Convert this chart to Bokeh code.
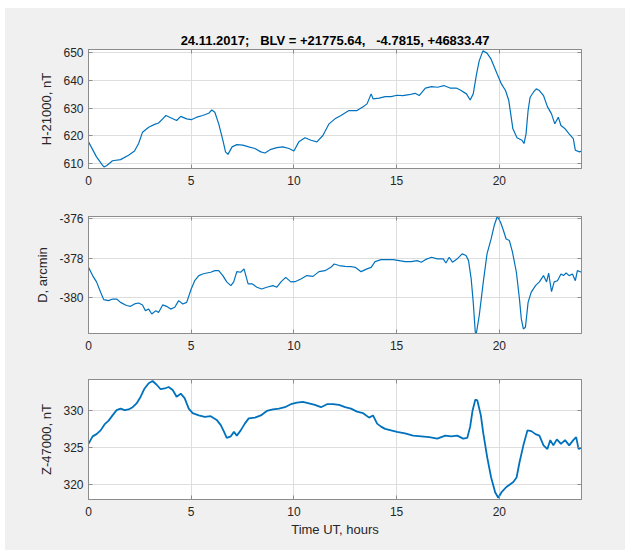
from bokeh.plotting import figure
from bokeh.layouts import column
from bokeh.models import Range1d, FixedTicker, LinearAxis
from bokeh.embed import file_html
from bokeh.resources import INLINE

# ---------------- data ----------------
title_text = "24.11.2017;\u00a0\u00a0\u00a0BLV = +21775.64,\u00a0\u00a0\u00a0-4.7815, +46833.47"
x_ticks = [0, 5, 10, 15, 20]

t_h = [0, 0.39, 0.68, 0.75, 0.88, 1.17, 1.56, 1.95, 2.24, 2.44,
       2.63, 2.93, 3.22, 3.41, 3.61, 3.77, 4.0, 4.29, 4.49, 4.78,
       5.0, 5.27, 5.56, 5.85, 6.0, 6.15, 6.34, 6.54, 6.67, 6.79,
       6.99, 7.22, 7.51, 7.8, 8.1, 8.39, 8.59, 8.88, 9.17, 9.46,
       9.76, 10.0, 10.24, 10.54, 10.83, 11.12, 11.41, 11.71, 12.0, 12.29,
       12.68, 13.07, 13.37, 13.56, 13.76, 13.85, 14.15, 14.44, 14.73, 15.02,
       15.3, 15.6, 15.9, 16.1, 16.4, 16.7, 17.0, 17.3, 17.6, 17.9,
       18.1, 18.4, 18.58, 18.73, 18.89, 19.02, 19.2, 19.4, 19.6, 19.9,
       20.1, 20.3, 20.46, 20.66, 20.86, 21.1, 21.2, 21.3, 21.4, 21.5,
       21.66, 21.8, 21.95, 22.15, 22.34, 22.54, 22.7, 22.87, 23.0, 23.2,
       23.4, 23.6, 23.7, 23.9, 24.0]
h_vals = [617.8, 612.4, 609.4, 608.8, 609.2, 611.0, 611.4, 613.0, 614.5, 617.2,
          621.3, 623.1, 624.1, 624.6, 626.1, 627.3, 626.5, 625.5, 627.0, 626.1,
          625.8, 626.7, 627.3, 628.1, 629.3, 628.5, 624.3, 618.4, 614.2, 613.3,
          616.0, 616.8, 616.6, 616.0, 615.4, 614.2, 613.8, 615.1, 615.7, 616.0,
          615.4, 614.5, 617.8, 619.3, 618.4, 617.8, 620.1, 624.3, 626.1, 627.3,
          629.1, 629.1, 630.5, 631.5, 635.1, 633.3, 633.6, 634.1, 634.1, 634.6,
          634.5, 634.8, 635.3, 634.5, 637.2, 637.7, 637.5, 638.1, 637.2, 637.2,
          636.5, 635.1, 632.9, 635.1, 642.2, 647.0, 650.6, 649.8, 647.6, 642.2,
          638.7, 636.3, 632.7, 622.5, 619.3, 618.4, 617.2, 620.7, 629.1, 633.9,
          635.7, 636.9, 636.3, 634.5, 630.5, 627.9, 624.3, 626.7, 623.7, 622.5,
          620.7, 619.0, 614.8, 614.2, 614.5]
h_ticks = [610, 620, 630, 640, 650]

t_d = [0, 0.2, 0.39, 0.59, 0.74, 0.98, 1.17, 1.37, 1.56, 1.85,
       2.05, 2.24, 2.44, 2.63, 2.77, 2.93, 3.08, 3.28, 3.41, 3.61,
       3.8, 4.0, 4.2, 4.39, 4.59, 4.78, 5.0, 5.17, 5.37, 5.56,
       5.76, 5.95, 6.15, 6.34, 6.54, 6.73, 6.93, 7.07, 7.22, 7.41,
       7.57, 7.77, 7.96, 8.2, 8.43, 8.68, 8.98, 9.17, 9.37, 9.6,
       9.85, 10.05, 10.34, 10.63, 10.93, 11.22, 11.51, 11.8, 11.96, 12.2,
       12.49, 12.78, 12.98, 13.27, 13.56, 13.76, 13.95, 14.24, 14.54, 14.83,
       15.12, 15.41, 15.71, 16.0, 16.2, 16.4, 16.7, 16.98, 17.27, 17.4,
       17.56, 17.72, 17.95, 18.19, 18.38, 18.5, 18.63, 18.73, 18.83, 18.88,
       19.02, 19.22, 19.4, 19.6, 19.75, 19.9, 20.06, 20.2, 20.33, 20.49,
       20.64, 20.83, 20.98, 21.07, 21.17, 21.27, 21.4, 21.55, 21.76, 21.95,
       22.15, 22.3, 22.4, 22.54, 22.67, 22.83, 23.0, 23.12, 23.25, 23.4,
       23.56, 23.7, 23.8, 24.0]
d_vals = [-378.46, -378.88, -379.2, -379.73, -380.1, -380.15, -380.07, -380.07, -380.24, -380.4,
          -380.44, -380.32, -380.27, -380.37, -380.66, -380.58, -380.83, -380.66, -380.75, -380.37,
          -380.44, -380.58, -380.49, -380.15, -380.32, -380.24, -379.56, -379.14, -378.88, -378.8,
          -378.75, -378.71, -378.63, -378.63, -378.88, -379.2, -379.39, -379.2, -378.68, -378.71,
          -378.54, -379.3, -379.3, -379.47, -379.56, -379.47, -379.39, -379.47, -379.2, -378.97,
          -379.2, -379.19, -379.05, -378.88, -378.92, -378.68, -378.63, -378.46, -378.29, -378.37,
          -378.41, -378.42, -378.46, -378.68, -378.54, -378.46, -378.17, -378.07, -378.07, -378.07,
          -378.12, -378.17, -378.17, -378.12, -378.2, -378.07, -377.95, -378.03, -378.03, -378.24,
          -377.95, -378.2, -378.03, -377.78, -377.86, -378.12, -379.05, -380.24, -381.76, -381.82,
          -380.92, -379.2, -377.78, -377.02, -376.34, -375.88, -376.17, -376.59, -377.02, -377.1,
          -377.69, -378.71, -380.07, -381.08, -381.59, -381.5, -380.24, -379.73, -379.39, -379.2,
          -378.88, -379.2, -378.75, -379.69, -379.2, -379.14, -378.8, -378.88, -378.75, -378.88,
          -378.8, -379.14, -378.63, -378.71]
d_ticks = [-380, -378, -376]

t_z = [0, 0.2, 0.39, 0.59, 0.78, 0.98, 1.17, 1.37, 1.56, 1.76,
       1.95, 2.15, 2.34, 2.54, 2.73, 2.93, 3.12, 3.32, 3.51, 3.71,
       3.9, 4.1, 4.29, 4.49, 4.68, 4.88, 5.07, 5.37, 5.66, 5.95,
       6.24, 6.44, 6.6, 6.73, 6.93, 7.08, 7.22, 7.41, 7.61, 7.8,
       8.1, 8.39, 8.68, 8.98, 9.27, 9.56, 9.85, 10.15, 10.44, 10.73,
       11.02, 11.32, 11.61, 11.9, 12.2, 12.49, 12.78, 13.07, 13.37, 13.66,
       13.85, 14.05, 14.24, 14.44, 14.73, 15.02, 15.41, 15.8, 16.2, 16.59,
       16.98, 17.37, 17.66, 17.95, 18.24, 18.44, 18.58, 18.7, 18.83, 18.93,
       19.1, 19.22, 19.41, 19.6, 19.8, 19.95, 20.1, 20.33, 20.53, 20.68,
       20.84, 20.98, 21.17, 21.37, 21.56, 21.76, 21.95, 22.15, 22.34, 22.48,
       22.63, 22.8, 23.0, 23.2, 23.4, 23.6, 23.74, 23.86, 24.0]
z_vals = [325.5, 326.5, 326.8, 327.3, 328.1, 328.6, 329.3, 330.0, 330.2, 330.0,
          330.1, 330.4, 330.9, 331.8, 332.9, 333.6, 333.9, 333.4, 332.8, 332.9,
          333.1, 332.7, 331.8, 332.2, 331.6, 330.2, 329.6, 329.3, 329.1, 329.2,
          328.7, 328.0, 327.1, 326.3, 326.5, 327.1, 326.6, 327.3, 328.2, 328.9,
          329.0, 329.3, 329.9, 330.1, 330.2, 330.4, 330.8, 331.0, 331.1, 330.9,
          330.7, 330.4, 330.8, 330.8, 330.7, 330.4, 330.2, 329.8, 329.6, 329.0,
          329.3, 328.2, 327.8, 327.5, 327.3, 327.1, 326.9, 326.6, 326.5, 326.4,
          326.2, 326.6, 326.5, 326.6, 326.2, 326.3, 327.8, 330.0, 331.4, 331.3,
          329.3, 326.9, 323.7, 321.0, 319.0, 318.3, 319.0, 319.7, 320.1, 320.4,
          321.0, 323.0, 325.3, 327.3, 327.2, 326.8, 326.6, 325.3, 324.8, 326.0,
          325.3, 326.1, 325.5, 326.0, 325.3, 326.0, 326.4, 324.8, 325.0]
z_ticks = [320, 325, 330]

# ---------------- styling ----------------
FONT = "Liberation Sans"
BG = "#f0f0f0"
EDGE = "#8c8c8c"
TXT = "#262626"
LINE = "#0072BD"


def style_axis(ax, ticks, standoff, hidden=False):
    ax.ticker = FixedTicker(ticks=ticks)
    ax.axis_line_color = EDGE
    ax.major_tick_line_color = EDGE
    ax.major_tick_in = 4
    ax.major_tick_out = 0
    ax.minor_tick_line_color = None
    ax.major_label_text_font = FONT
    ax.major_label_text_font_size = "12px"
    ax.major_label_overrides = {t: str(t) for t in ticks}
    if hidden:
        ax.major_label_text_color = None
        ax.major_label_standoff = 0
    else:
        ax.major_label_text_color = TXT
        ax.major_label_standoff = standoff


def make_fig(height, top, bottom, yr, yticks, ylabel, xlabel=None, title=None):
    p = figure(width=620, height=height,
               x_range=Range1d(0, 24), y_range=Range1d(*yr),
               output_backend="svg", toolbar_location=None,
               min_border_left=83, min_border_right=44,
               min_border_top=top, min_border_bottom=bottom,
               background_fill_color="white", border_fill_color=BG,
               outline_line_color=EDGE)
    if title:
        p.title.text = title
        p.title.align = "center"
        p.title.text_font = FONT
        p.title.text_font_size = "13px"
        p.title.text_font_style = "bold"
        p.title.text_color = "black"
        p.title.standoff = 3
    style_axis(p.xaxis[0], x_ticks, 7)
    style_axis(p.yaxis[0], yticks, 5)
    p.yaxis[0].axis_label = ylabel
    p.yaxis[0].axis_label_text_font = FONT
    p.yaxis[0].axis_label_text_font_size = "13px"
    p.yaxis[0].axis_label_text_font_style = "normal"
    p.yaxis[0].axis_label_text_color = TXT
    p.yaxis[0].axis_label_standoff = 6
    if xlabel:
        p.xaxis[0].axis_label = xlabel
        p.xaxis[0].axis_label_text_font = FONT
        p.xaxis[0].axis_label_text_font_size = "13px"
        p.xaxis[0].axis_label_text_font_style = "normal"
        p.xaxis[0].axis_label_text_color = TXT
        p.xaxis[0].axis_label_standoff = 3
    ra = LinearAxis()
    style_axis(ra, yticks, 0, hidden=True)
    p.add_layout(ra, "right")
    ta = LinearAxis()
    style_axis(ta, x_ticks, 0, hidden=True)
    p.add_layout(ta, "above")
    p.xgrid.ticker = FixedTicker(ticks=x_ticks)
    p.ygrid.ticker = FixedTicker(ticks=yticks)
    for g in (p.xgrid[0], p.ygrid[0]):
        g.grid_line_color = "#dedede"
        g.grid_line_width = 1
    return p


p1 = make_fig(184, 41, 24, (608.2, 651.1), h_ticks, "H-21000, nT", title=title_text)
p1.line(t_h, h_vals, line_color=LINE, line_width=1.2)

p2 = make_fig(165, 24, 24, (-381.82, -375.88), d_ticks, "D, arcmin")
p2.line(t_d, d_vals, line_color=LINE, line_width=1.2)

p3 = make_fig(193, 22, 51, (318.06, 334.1), z_ticks, "Z-47000, nT", xlabel="Time UT, hours")
p3.line(t_z, z_vals, line_color=LINE, line_width=1.8)

layout = column(p1, p2, p3, margin=(8, 4, 4, 5), spacing=0,
                styles={"background-color": BG})

open("out.html", "w").write(file_html(layout, INLINE))
